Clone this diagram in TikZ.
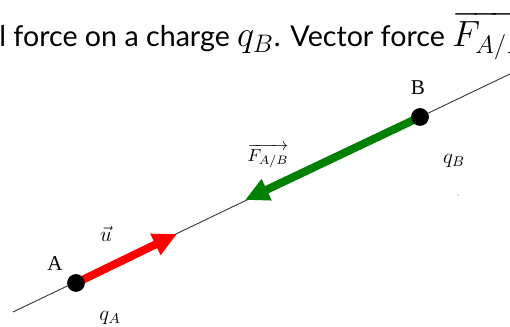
\documentclass[tikz,border=0pt]{standalone}
\usepackage{fontspec}
\setmainfont{Liberation Serif}
\newfontfamily\titlefont{Lato}
\usepackage{xcolor}
\definecolor{forcered}{RGB}{255,0,0}
\definecolor{forcegreen}{RGB}{0,128,0}
\usetikzlibrary{arrows.meta,positioning}
\tikzset{
  charge dot/.style={circle, fill=black, minimum size=0.35cm, inner sep=0pt},
  force arrow/.style={-{Triangle[length=0.48cm, width=0.44cm]}, line width=0.16cm},
  field line/.style={line width=0.5pt, black!80},
  charge label/.style={font=\large, inner sep=1pt},
}
\newcommand{\bigmath}[1]{{\fontsize{22}{24}\selectfont$#1$}}

\begin{document}
\begin{tikzpicture}[x=0.02cm, y=0.02cm]
  \useasboundingbox (0,0) rectangle (510,327);
  \begin{scope}
    \clip (0,0) rectangle (510,327);
    % title line, cut on both sides
    \node[anchor=base west, font=\titlefont\fontsize{16.3}{20}\selectfont, inner sep=0pt] (title) at (-1,280)
      {l force on a charge \bigmath{q_B}. Vector force \bigmath{\overrightarrow{F_{A/B}}}};
    % line through both charges
    \coordinate (lstart) at (13,15);
    \coordinate (lend) at (512,254);
    \draw[field line] (lstart) -- (lend);
  \end{scope}
  \coordinate (utip) at (177,93);
  \coordinate (ftip) at (245,127);
  \node[charge dot] (A) at (76,44) {};
  \node[charge dot] (B) at (420,210) {};
  \draw[force arrow, forcered] (A.center) -- (utip);
  \draw[force arrow, forcegreen] (B.center) -- (ftip);
  \node[charge dot] at (A) {};
  \node[charge dot] at (B) {};
  % labels
  \node[charge label] (lA) at (55,63) {A};
  \node[charge label] (lB) at (418,239) {B};
  \node[charge label] (qA) at (110,9) {$q_A$};
  \node[charge label] (qB) at (454,166) {$q_B$};
  \node[charge label] (uvec) at (106,93) {$\vec{u}$};
  \node[charge label, font=\normalsize] (fAB) at (268,171) {$\overrightarrow{F_{A/B}}$};
  \fill[black!60] (458,132) circle (0.012cm);
\end{tikzpicture}
\end{document}
